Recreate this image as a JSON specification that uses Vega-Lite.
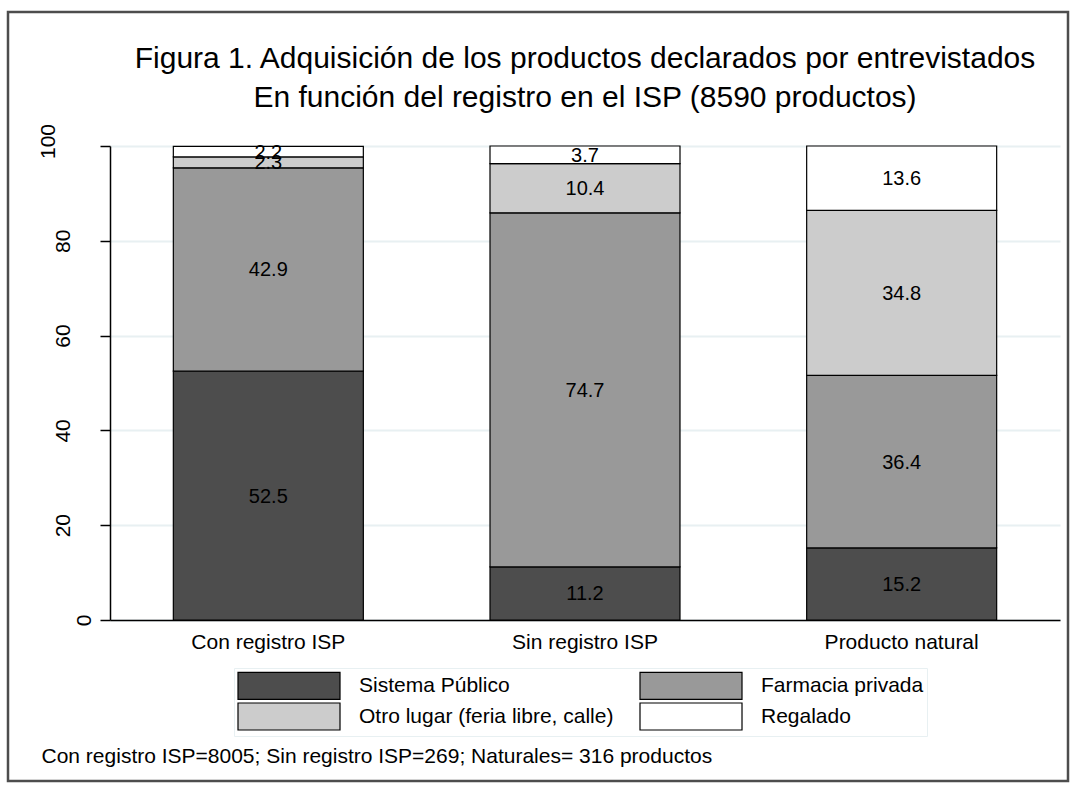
{
  "$schema": "https://vega.github.io/schema/vega-lite/v6.json",
  "width": 1060,
  "height": 769,
  "autosize": {"type": "none"},
  "padding": {"left": 8, "top": 12, "right": 7, "bottom": 10},
  "background": "white",
  "title": {
    "text": ["Figura 1. Adquisición de los productos declarados por entrevistados", "En función del registro en el ISP (8590 productos)"],
    "fontSize": 30,
    "font": "Liberation Sans",
    "fontWeight": "normal",
    "color": "black",
    "anchor": "middle",
    "frame": "group",
    "lineHeight": 39,
    "baseline": "alphabetic",
    "offset": 38,
    "dx": 47,
    "dy": 163
  },
  "data": {
    "values": [
      {"grupo": "Con registro ISP", "lugar": "Sistema Público", "orden": 1, "pct": 52.5},
      {"grupo": "Con registro ISP", "lugar": "Farmacia privada", "orden": 2, "pct": 42.9},
      {"grupo": "Con registro ISP", "lugar": "Otro lugar (feria libre, calle)", "orden": 3, "pct": 2.3},
      {"grupo": "Con registro ISP", "lugar": "Regalado", "orden": 4, "pct": 2.2},
      {"grupo": "Sin registro ISP", "lugar": "Sistema Público", "orden": 1, "pct": 11.2},
      {"grupo": "Sin registro ISP", "lugar": "Farmacia privada", "orden": 2, "pct": 74.7},
      {"grupo": "Sin registro ISP", "lugar": "Otro lugar (feria libre, calle)", "orden": 3, "pct": 10.4},
      {"grupo": "Sin registro ISP", "lugar": "Regalado", "orden": 4, "pct": 3.7},
      {"grupo": "Producto natural", "lugar": "Sistema Público", "orden": 1, "pct": 15.2},
      {"grupo": "Producto natural", "lugar": "Farmacia privada", "orden": 2, "pct": 36.4},
      {"grupo": "Producto natural", "lugar": "Otro lugar (feria libre, calle)", "orden": 3, "pct": 34.8},
      {"grupo": "Producto natural", "lugar": "Regalado", "orden": 4, "pct": 13.6}
    ]
  },
  "config": {
    "font": "Liberation Sans",
    "view": {"stroke": "#4d4d4d", "strokeWidth": 2.5, "fill": "white"},
    "axis": {"labelColor": "black", "labelFont": "Liberation Sans"}
  },
  "layer": [
    {
      "mark": {"type": "bar", "stroke": "black", "strokeWidth": 1.2},
      "encoding": {
        "x": {
          "field": "grupo",
          "type": "nominal",
          "sort": ["Con registro ISP", "Sin registro ISP", "Producto natural"],
          "scale": {"paddingInner": 0.4, "paddingOuter": 0.2, "range": [102, 1052]},
          "axis": {
            "offset": -161,
            "title": "Con registro ISP=8005; Sin registro ISP=269; Naturales= 316 productos",
            "titleFontSize": 21,
            "titleFontWeight": "normal",
            "titleFont": "Liberation Sans",
            "titleColor": "black",
            "titleAnchor": "start",
            "titleAlign": "left",
            "titleBaseline": "alphabetic",
            "titleX": 33,
            "titleY": 142,
            "labelAngle": 0,
            "labelFontSize": 21,
            "labelBaseline": "top",
            "labelPadding": 11,
            "ticks": false,
            "domainColor": "black",
            "domainWidth": 1.5
          }
        },
        "y": {
          "field": "pct",
          "type": "quantitative",
          "stack": "zero",
          "scale": {"domain": [0, 100], "nice": false, "range": [608, 134]},
          "axis": {
            "offset": -102,
            "title": null,
            "values": [0, 20, 40, 60, 80, 100],
            "labelAngle": -90,
            "labelAlign": "center",
            "labelBaseline": "alphabetic",
            "labelFontSize": 21,
            "labelPadding": {"condition": [{"test": "datum.value == 0", "value": 10}, {"test": "datum.value == 100", "value": 46}], "value": 31},
            "labelOffset": {"condition": {"test": "datum.value == 100", "value": -5}, "value": 0},
            "tickSize": 10,
            "tickColor": "black",
            "tickWidth": 1.5,
            "domainColor": "black",
            "domainWidth": 1.5,
            "grid": true,
            "gridColor": "#e8f0f2",
            "gridWidth": 2
          }
        },
        "color": {
          "field": "lugar",
          "type": "nominal",
          "sort": ["Sistema Público", "Farmacia privada", "Otro lugar (feria libre, calle)", "Regalado"],
          "scale": {
            "domain": ["Sistema Público", "Farmacia privada", "Otro lugar (feria libre, calle)", "Regalado"],
            "range": ["#4d4d4d", "#999999", "#cccccc", "#ffffff"]
          },
          "legend": {
            "title": null,
            "orient": "none",
            "direction": "horizontal",
            "legendX": 226,
            "legendY": 656,
            "columns": 2,
            "columnPadding": 23,
            "rowPadding": -2,
            "padding": 3,
            "strokeColor": "#e8f0f2",
            "symbolType": "M-1,-1H6.556V1H-1Z",
            "symbolSize": 729,
            "symbolStrokeColor": "black",
            "symbolStrokeWidth": 1.2,
            "symbolOpacity": 1,
            "labelFontSize": 21,
            "labelFont": "Liberation Sans",
            "labelColor": "black",
            "labelOffset": 93,
            "labelLimit": 400
          }
        },
        "order": {"field": "orden", "type": "quantitative"}
      }
    },
    {
      "transform": [
        {"stack": "pct", "groupby": ["grupo"], "sort": [{"field": "orden", "order": "ascending"}], "as": ["p0", "p1"]},
        {"calculate": "(datum.p0 + datum.p1) / 2", "as": "pmid"}
      ],
      "mark": {"type": "text", "fontSize": 20, "font": "Liberation Sans", "color": "black", "baseline": "middle", "dy": 1},
      "encoding": {
        "x": {"field": "grupo", "type": "nominal", "sort": ["Con registro ISP", "Sin registro ISP", "Producto natural"]},
        "y": {"field": "pmid", "type": "quantitative"},
        "text": {"field": "pct", "type": "quantitative", "format": ".1f"}
      }
    }
  ]
}
